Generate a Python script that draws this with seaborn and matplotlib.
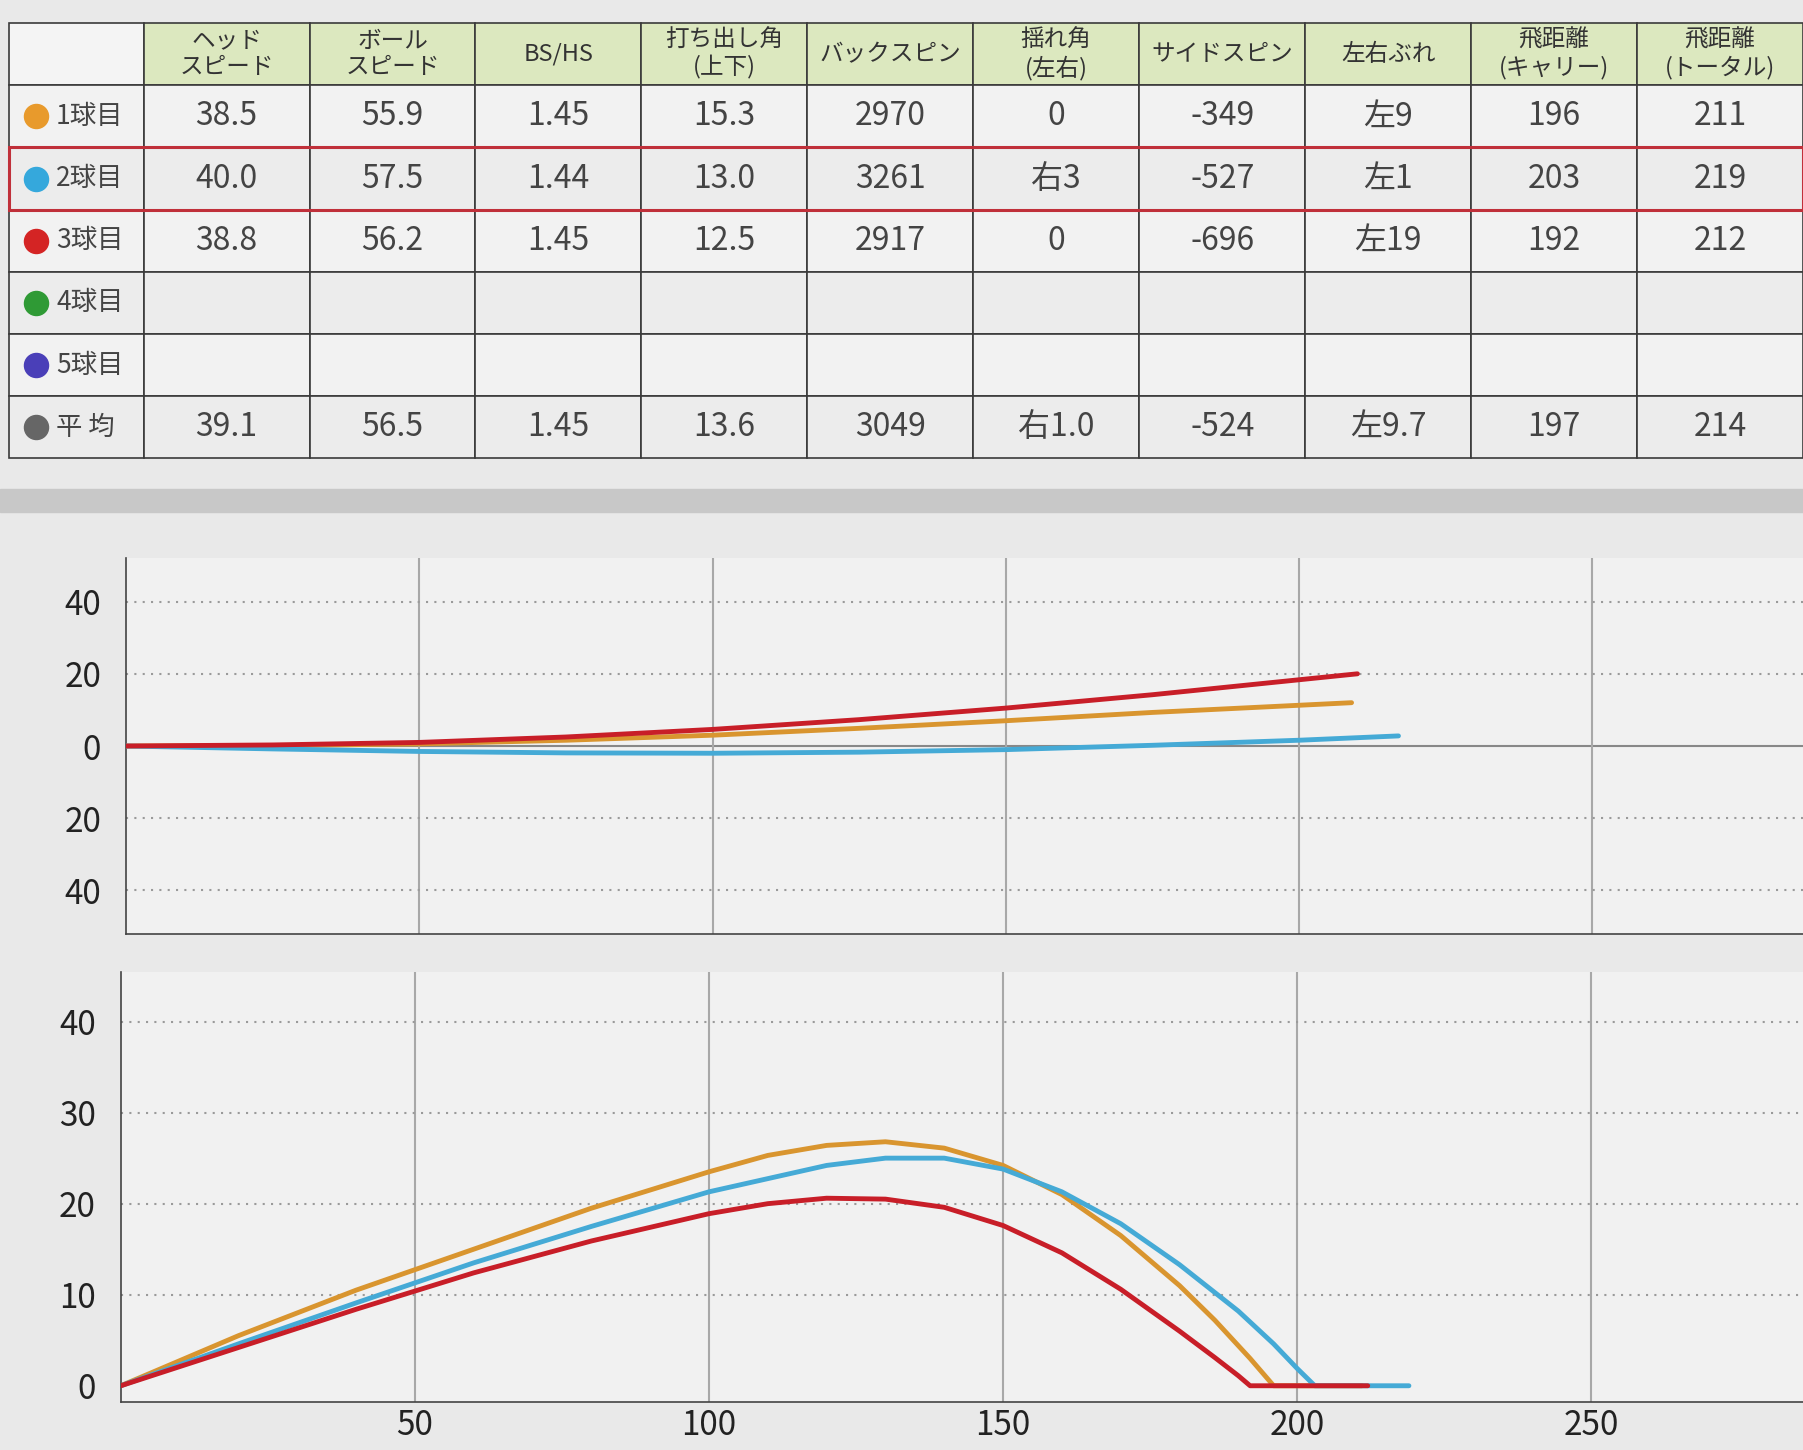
import numpy as np
import pandas as pd
import matplotlib
matplotlib.use("Agg")
import matplotlib.pyplot as plt
import seaborn as sns

sns.set_theme(style="white")
plt.rcParams['font.family'] = ['Noto Sans CJK JP', 'DejaVu Sans']

# ---------------- data ----------------
col_headers = ["", "ヘッド\nスピード", "ボール\nスピード", "BS/HS", "打ち出し角\n(上下)", "バックスピン",
               "揺れ角\n(左右)", "サイドスピン", "左右ぶれ", "飛距離\n(キャリー)", "飛距離\n(トータル)"]
row_labels = ["1球目", "2球目", "3球目", "4球目", "5球目", "平 均"]
row_colors = ["#e89a2c", "#35a8dc", "#d42424", "#2f9a35", "#4a3fb8", "#666666"]
table_rows = [
    ["38.5", "55.9", "1.45", "15.3", "2970", "0", "-349", "左9", "196", "211"],
    ["40.0", "57.5", "1.44", "13.0", "3261", "右3", "-527", "左1", "203", "219"],
    ["38.8", "56.2", "1.45", "12.5", "2917", "0", "-696", "左19", "192", "212"],
    [""] * 10,
    [""] * 10,
    ["39.1", "56.5", "1.45", "13.6", "3049", "右1.0", "-524", "左9.7", "197", "214"],
]

series_names = ["1球目", "2球目", "3球目"]
series_colors = ["#d9952f", "#45aad6", "#c81e28"]

side_x = [
    [0, 20, 40, 60, 80, 100, 110, 120, 130, 140, 150, 160, 170, 180, 186, 192, 196, 211],
    [0, 20, 40, 60, 80, 100, 120, 130, 140, 150, 160, 170, 180, 190, 196, 200, 203, 219],
    [0, 20, 40, 60, 80, 100, 110, 120, 130, 140, 150, 160, 170, 180, 186, 190, 192, 212],
]
side_y = [
    [0, 5.5, 10.5, 15, 19.5, 23.5, 25.3, 26.4, 26.8, 26.1, 24.2, 21, 16.5, 11, 7.2, 3.0, 0, 0],
    [0, 4.6, 9.1, 13.5, 17.5, 21.3, 24.2, 25.0, 25.0, 23.8, 21.3, 17.8, 13.3, 8.2, 4.6, 1.9, 0, 0],
    [0, 4.2, 8.4, 12.4, 15.9, 18.9, 20.0, 20.6, 20.5, 19.6, 17.6, 14.6, 10.6, 6.0, 3.1, 1.1, 0, 0],
]
top_x = [
    [0, 25, 50, 75, 100, 125, 150, 175, 209],
    [0, 25, 50, 75, 100, 125, 150, 175, 200, 217],
    [0, 25, 50, 75, 100, 125, 150, 175, 210],
]
top_y = [
    [0, 0.1, 0.6, 1.6, 3.0, 4.9, 7.0, 9.3, 12.0],
    [0, -0.8, -1.5, -1.9, -2.0, -1.7, -1.0, 0.2, 1.6, 2.8],
    [0, 0.3, 1.0, 2.5, 4.6, 7.3, 10.5, 14.2, 20.0],
]

# ---------------- figure ----------------
bg = "#e9e9e9"
fig = plt.figure(figsize=(18.03, 14.5), dpi=100, facecolor=bg)

# table
tax = fig.add_axes([0.005, 0.684, 0.995, 0.300])
tax.axis("off")
cells = [[r] + v for r, v in zip(row_labels, table_rows)]
tbl = tax.table(cellText=cells, colLabels=col_headers, bbox=[0, 0, 1, 1], cellLoc="center")
tbl.auto_set_font_size(False)
widths = [0.075] + [0.0925] * 10
for (r, c), cell in tbl.get_celld().items():
    cell.set_width(widths[c])
    cell.set_edgecolor("#3a3a3a")
    cell.set_linewidth(1.2)
    t = cell.get_text()
    if r == 0:
        cell.set_facecolor("#dce8bf" if c > 0 else "#f4f4f4")
        t.set_fontsize(17)
        t.set_color("#333333")
    else:
        cell.set_facecolor("#f2f2f2" if r in (1, 3, 5) else "#ececec")
        t.set_fontsize(23 if c > 0 else 19)
        t.set_color("#444444")
        if c == 0:
            t.set_ha("left")
            cell.PAD = 0.35
# red frame around row 2
tax.add_patch(plt.Rectangle((0, 1 - 3 / 7), 1, 1 / 7, transform=tax.transAxes, fill=False,
                            edgecolor="#c0303a", lw=2.2, zorder=6, clip_on=False))
# bullets
for i, col in enumerate(row_colors):
    yc = 1 - (i + 1.5) / 7
    tax.scatter([0.015], [yc], s=300, color=col, transform=tax.transAxes, zorder=7, clip_on=False)

# separator bar
fig.patches.append(plt.Rectangle((0, 0.647), 1, 0.016, transform=fig.transFigure,
                                 color="#c8c8c8", zorder=0))

def style(ax, ylim, yticks, ylabels):
    ax.set_facecolor("#f1f1f1")
    ax.set_xlim(0, 286)
    ax.set_ylim(*ylim)
    ax.set_xticks([50, 100, 150, 200, 250])
    ax.set_yticks(yticks)
    ax.set_yticklabels(ylabels, fontsize=24, color="#222222")
    for x in [50, 100, 150, 200, 250]:
        ax.axvline(x, color="#a8a8a8", lw=1.5, zorder=1)
    for y in yticks:
        if y != 0:
            ax.axhline(y, color="#9a9a9a", lw=1.5, ls=(0, (1, 3)), zorder=1)
    for s in ["top", "right"]:
        ax.spines[s].set_visible(False)
    for s in ["left", "bottom"]:
        ax.spines[s].set_color("#444444")
        ax.spines[s].set_linewidth(1.2)
    ax.set_xlabel("")
    ax.set_ylabel("")
    ax.tick_params(axis="y", length=0, pad=18)

def long_df(xs, ys):
    return pd.concat([pd.DataFrame({"x": x, "y": y, "ball": n, "order": range(len(x))})
                      for x, y, n in zip(xs, ys, series_names)])

# top view
ax1 = fig.add_axes([0.070, 0.356, 0.930, 0.259])
ax1.axhline(0, color="#888888", lw=1.5, zorder=1)
sns.lineplot(data=long_df(top_x, top_y), x="x", y="y", hue="ball", palette=series_colors,
             sort=False, lw=3.5, legend=False, ax=ax1, zorder=3)
style(ax1, (-52, 52), [40, 20, 0, -20, -40], ["40", "20", "0", "20", "40"])
ax1.set_xticklabels([])
ax1.tick_params(axis="x", length=0)

# side view
ax2 = fig.add_axes([0.067, 0.033, 0.933, 0.297])
sns.lineplot(data=long_df(side_x, side_y), x="x", y="y", hue="ball", palette=series_colors,
             sort=False, lw=3.5, legend=False, ax=ax2, zorder=3)
style(ax2, (-1.8, 45.5), [0, 10, 20, 30, 40], ["0", "10", "20", "30", "40"])
ax2.set_xticklabels(["50", "100", "150", "200", "250"], fontsize=24, color="#222222")
ax2.tick_params(axis="x", length=0, pad=4)

fig.savefig("out.png", dpi=100, facecolor=bg)
